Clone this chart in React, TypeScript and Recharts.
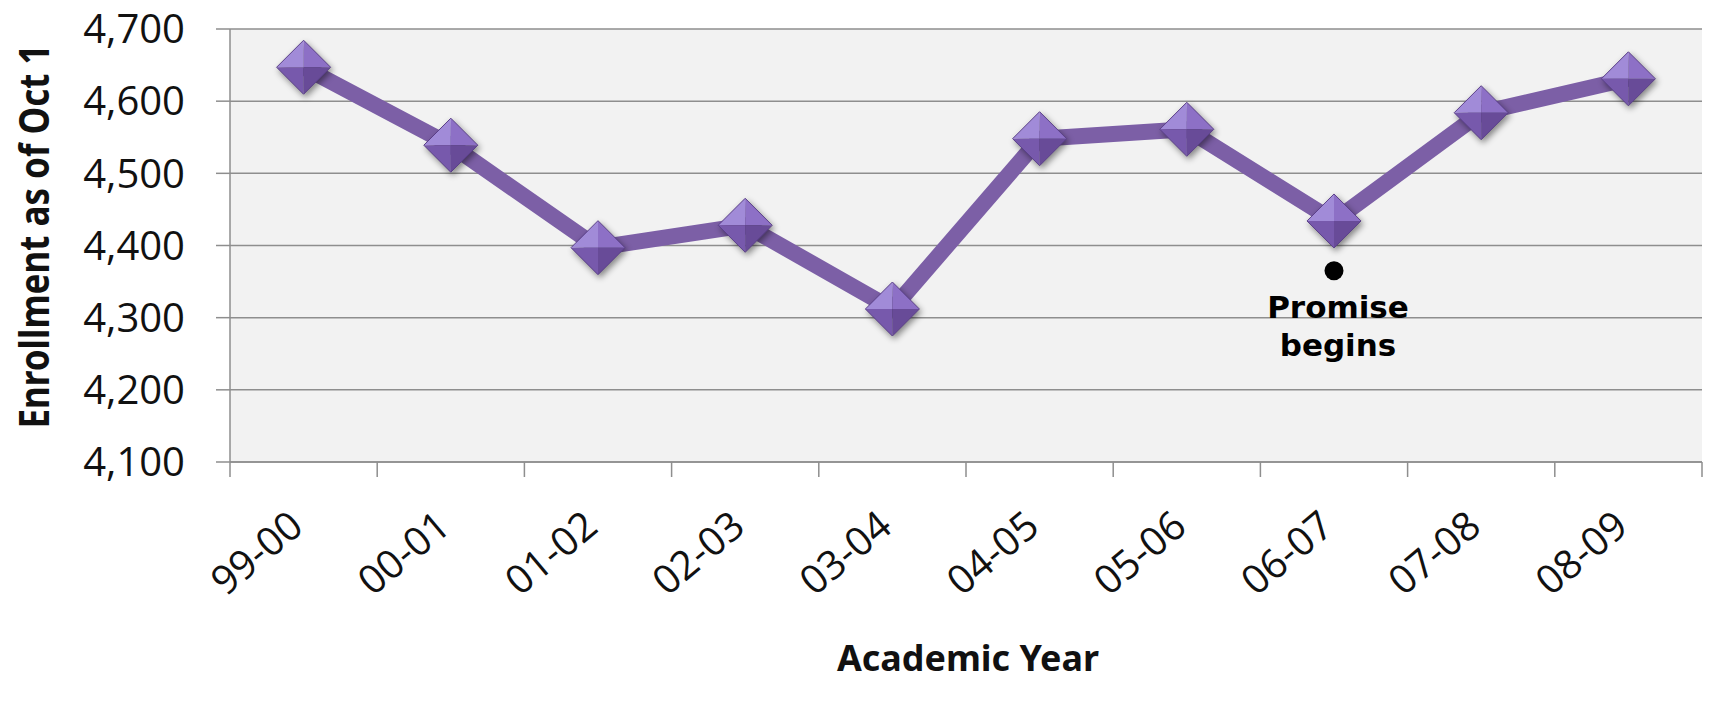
import React from 'react';
import { LineChart, Line, XAxis, YAxis, CartesianGrid, ReferenceDot, Label } from 'recharts';

const years = ['99-00', '00-01', '01-02', '02-03', '03-04', '04-05', '05-06', '06-07', '07-08', '08-09'];
const enrollment = [4647, 4539, 4397, 4428, 4312, 4548, 4561, 4434, 4584, 4631];
const yTicks = [4100, 4200, 4300, 4400, 4500, 4600, 4700];
const promiseYear = '06-07';
const promiseValue = 4365;
const promiseLines = ['Promise', 'begins'];
const yTitle = 'Enrollment as of Oct 1';
const xTitle = 'Academic Year';

const data = years.map((year, i) => ({ year, enrollment: enrollment[i] }));

const W = 1711;
const H = 703;
const MARGIN = { top: 29, right: 9, bottom: 0, left: 0 };
const Y_AXIS_W = 230;
const X_AXIS_H = 241;
const PLOT_W = W - Y_AXIS_W - MARGIN.left - MARGIN.right;
const BAND = PLOT_W / years.length;

const GRID = '#8e8e8e';
const LINE = '#7c5fa6';
const TICK_FONT = '"Open Sans", "Noto Sans", sans-serif';
const TITLE_FONT = '"Noto Sans", "Open Sans", sans-serif';

const fmt = (v: number) => v.toLocaleString('en-US');

const XTick = (props: any) => {
  const { x, y, payload } = props;
  const left = x - BAND / 2;
  const isLast = payload.value === years[years.length - 1];
  const tx = x + 2;
  const ty = y + 68;
  return (
    <g>
      <line x1={left} x2={left} y1={y} y2={y + 15} stroke={GRID} strokeWidth={1.5} />
      {isLast && <line x1={x + BAND / 2} x2={x + BAND / 2} y1={y} y2={y + 15} stroke={GRID} strokeWidth={1.5} />}
      <text
        x={tx}
        y={ty}
        transform={`rotate(-40, ${tx}, ${ty})`}
        textAnchor="end"
        fontFamily={TICK_FONT}
        fontSize={40}
        fill="#111"
      >
        {payload.value}
      </text>
    </g>
  );
};

const Diamond = (props: any) => {
  const { cx, cy, index } = props;
  if (cx == null || cy == null) return <g key={`e${index}`} />;
  const r = 27;
  const L = `${cx - r},${cy}`;
  const T = `${cx},${cy - r}`;
  const R = `${cx + r},${cy}`;
  const B = `${cx},${cy + r}`;
  const C = `${cx},${cy}`;
  return (
    <g key={`d${index}`} style={{ filter: 'drop-shadow(2px 3px 3px rgba(0,0,0,0.45))' }}>
      <polygon points={`${L} ${T} ${C}`} fill="#a18bd8" />
      <polygon points={`${T} ${R} ${C}`} fill="#8d70c6" />
      <polygon points={`${L} ${B} ${C}`} fill="#7759ac" />
      <polygon points={`${R} ${B} ${C}`} fill="#684b98" />
      <polygon points={`${L} ${T} ${R} ${B}`} fill="none" stroke="#5a3f88" strokeWidth={1} />
    </g>
  );
};

const YTitle = (props: any) => {
  const vb = props.viewBox || { x: 0, y: 29, width: 230, height: 433 };
  const x = vb.x + 49;
  const y = vb.y + vb.height / 2 - 9;
  return (
    <text
      x={x}
      y={y}
      transform={`rotate(-90, ${x}, ${y})`}
      textAnchor="middle"
      fontFamily={TITLE_FONT}
      fontWeight="bold"
      fontSize={42}
      textLength={384}
      lengthAdjust="spacingAndGlyphs"
      fill="#111"
    >
      {yTitle}
    </text>
  );
};

const XTitle = (props: any) => {
  const vb = props.viewBox || { x: 230, y: 462, width: 1472, height: 241 };
  return (
    <text
      x={vb.x + vb.width / 2 + 2}
      y={vb.y + 209}
      textAnchor="middle"
      fontFamily={TITLE_FONT}
      fontWeight="bold"
      fontSize={35}
      textLength={262}
      lengthAdjust="spacingAndGlyphs"
      fill="#111"
    >
      {xTitle}
    </text>
  );
};

const PromiseLabel = (props: any) => {
  const vb = props.viewBox || { x: 0, y: 0, width: 0, height: 0 };
  const cx = vb.x + (vb.width || 0) / 2;
  const cy = vb.y + (vb.height || 0) / 2;
  return (
    <g>
      {promiseLines.map((t, i) => (
        <text
          key={t}
          x={cx + 4}
          y={cy + 47 + i * 38}
          textAnchor="middle"
          fontFamily='"DejaVu Sans", sans-serif'
          fontWeight="bold"
          fontSize={31}
          fill="#000"
        >
          {t}
        </text>
      ))}
    </g>
  );
};

export default function App() {
  return (
    <div style={{ position: 'absolute', left: 0, top: 0, width: W, height: H, background: '#fff' }}>
      <LineChart width={W} height={H} data={data} margin={MARGIN}>
        <CartesianGrid vertical={false} stroke={GRID} strokeWidth={1.5} fill="#f2f2f2" />
        <XAxis
          dataKey="year"
          height={X_AXIS_H}
          interval={0}
          padding={{ left: BAND / 2, right: BAND / 2 }}
          tickLine={false}
          tickSize={0}
          tickMargin={0}
          axisLine={{ stroke: GRID, strokeWidth: 1.5 }}
          tick={<XTick />}
        >
          <Label content={<XTitle />} />
        </XAxis>
        <YAxis
          width={Y_AXIS_W}
          domain={[4100, 4700]}
          ticks={yTicks}
          tickFormatter={fmt}
          tickSize={14}
          tickMargin={31}
          tickLine={{ stroke: GRID, strokeWidth: 1.5 }}
          axisLine={{ stroke: GRID, strokeWidth: 1.5 }}
          tick={{ fontFamily: TICK_FONT, fontSize: 40, fill: '#111' }}
          allowDataOverflow
        >
          <Label content={<YTitle />} />
        </YAxis>
        <Line
          type="linear"
          dataKey="enrollment"
          stroke={LINE}
          strokeWidth={16}
          strokeLinejoin="round"
          dot={(p: any) => <Diamond {...p} />}
          activeDot={false}
          isAnimationActive={false}
        />
        <ReferenceDot
          x={promiseYear}
          y={promiseValue}
          r={9.5}
          fill="#000"
          stroke="none"
          label={<PromiseLabel />}
        />
      </LineChart>
    </div>
  );
}
